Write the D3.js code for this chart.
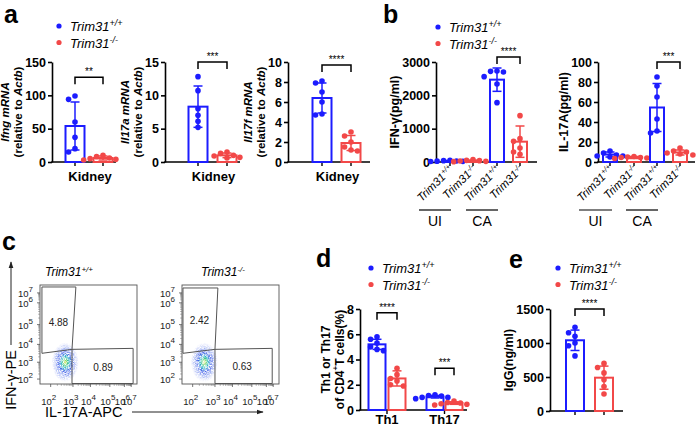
<!DOCTYPE html>
<html>
<head>
<meta charset="utf-8">
<script src="https://cdn.jsdelivr.net/npm/d3@7"></script>
<style>
  body { margin: 0; background: #fff; }
  svg { font-family: "Liberation Sans", Arial, sans-serif; }
</style>
</head>
<body>
<svg id="fig" width="697" height="427"></svg>
<script>
const BLUE = "#1c1cff";
const RED = "#f24848";

// genotypes (legend / x labels): Trim31+/+ and Trim31-/-
const genoSup = ["+/+", "-/-"];
const genoColor = [BLUE, RED];

// ---- panel a : kidney mRNA (relative to Actb) ----
const ifngMean = [54, 6];
const ifngSD = [36, 3];
const ifngPts = [[99, 94, 60, 37, 20, 15], [10, 8, 6, 5, 4, 3]];
const il17aMean = [8.3, 1.0];
const il17aSD = [3.1, 0.35];
const il17aPts = [[12.8, 10.7, 8.0, 7.0, 6.1, 5.2], [1.5, 1.3, 1.0, 0.9, 0.7, 0.6]];
const il17fMean = [6.4, 1.9];
const il17fSD = [1.5, 0.75];
const il17fPts = [[8.1, 7.9, 7.0, 6.0, 4.8, 4.7], [3.0, 2.6, 2.0, 1.5, 1.2, 1.1]];

// ---- panel b : cytokines, UI vs CA ----
const bGroups = ["UI", "CA"];
const ifnMean = [30, 35, 2470, 610];
const ifnSD = [15, 20, 350, 470];
const ifnPts = [[50, 40, 30, 25, 20, 15], [70, 50, 40, 30, 20, 10],
                [2730, 2720, 2700, 2560, 2340, 1780], [1390, 700, 620, 420, 300, 230]];
const il17Mean = [7.5, 4.5, 54.5, 9.5];
const il17SD = [2.5, 1, 24, 2.5];
const il17Pts = [[11, 9, 7, 6, 6, 5], [5.5, 5, 4.5, 4.5, 4, 3.5],
                 [85, 76, 65, 43, 31, 29], [14, 11, 10, 9, 8, 7]];

// ---- panel c : flow cytometry (channel units 0-100) ----
const flowTickExp = [2, 3, 4, 5, 6, 7];
const flowXTickPos = [11, 34, 52, 72, 87, 94];
const flowYTickPos = [5, 22, 40, 60, 82, 92];
const wtGateTh1 = [[2, 98], [37, 98], [33, 35], [2, 31]];
const wtGateTh17 = [[33, 35], [96, 36], [96, 0.5], [33, 0.5]];
const wtPct = ["4.88", "0.89"];
const wtPctAt = [[19, 63], [65, 17]];
const koGateTh1 = [[1, 97], [37, 97], [34, 35], [1, 31]];
const koGateTh17 = [[34, 35], [93, 36], [93, 0.5], [34, 0.5]];
const koPct = ["2.42", "0.63"];
const koPctAt = [[18, 65], [62, 18]];
const wtCloud = { cx: 26, cy: 22, rx: 14, ry: 20 };
const koCloud = { cx: 23, cy: 22, rx: 14, ry: 20 };

// ---- panel d : Th1 / Th17 ----
const thCats = ["Th1", "Th17"];
const thMeanWT = [5.2, 1.05];
const thMeanKO = [2.5, 0.55];
const thSDWT = [0.4, 0.1];
const thSDKO = [0.6, 0.1];
const thPtsWT = [[5.8, 5.6, 5.3, 5.0, 4.8, 4.7], [1.2, 1.15, 1.1, 1.0, 1.0, 0.9]];
const thPtsKO = [[3.3, 2.8, 2.5, 2.3, 2.0, 1.9], [0.7, 0.6, 0.55, 0.5, 0.45, 0.4]];

// ---- panel e : IgG ----
const iggMean = [1040, 490];
const iggSD = [150, 170];
const iggPts = [[1230, 1150, 1100, 1000, 960, 810], [700, 640, 560, 460, 360, 250]];

const svg = d3.select("#fig");
const defs = svg.append("defs");

// helper: "Trim31" with superscript
function trim31(sel, sup, supSize, dy) {
  sel.append("tspan").text("Trim31");
  sel.append("tspan").attr("dy", dy).attr("font-size", supSize).text(sup);
}

function panelLetter(x, y, t) {
  svg.append("text").attr("x", x).attr("y", y)
    .attr("font-size", 25).attr("font-weight", "bold").text(t);
}

function legend(x, y) {
  genoSup.forEach((s, i) => {
    const yy = y + i * 16.5;
    svg.append("circle").attr("cx", x).attr("cy", yy).attr("r", 2.6).attr("fill", genoColor[i]);
    const t = svg.append("text").attr("x", x + 11).attr("y", yy + 5)
      .attr("font-size", 13).attr("font-style", "italic");
    trim31(t, s, 9, -5);
  });
}

// beeswarm-ish horizontal offsets so dots don't overlap
function swarm(vals, y, r) {
  const placed = [];
  return vals.map(v => {
    const py = y(v);
    let dx = 0;
    for (const o of [0, -1, 1, -2, 2, -3, 3]) {
      dx = o * r * 2.3;
      if (!placed.some(p => Math.hypot(p[0] - dx, p[1] - py) < r * 2.1)) break;
    }
    placed.push([dx, py]);
    return [dx, py];
  });
}

// generic bar + dot + SD chart
function barChart(cfg) {
  const g = svg.append("g");
  const y = d3.scaleLinear().domain(cfg.domain).range([cfg.yBot, cfg.yTop]);
  const keys = cfg.means.map((d, i) => i);
  const x = d3.scaleOrdinal().domain(keys).range(cfg.centers);

  // y axis
  const ax = g.append("g").attr("transform", `translate(${cfg.axisX},0)`)
    .call(d3.axisLeft(y).tickValues(cfg.ticks).tickFormat(d3.format("d"))
      .tickSize(4).tickSizeOuter(0).tickPadding(2));
  ax.selectAll("path,line").attr("stroke", "#000").attr("stroke-width", 1.6);
  ax.selectAll("text").attr("font-size", cfg.tickFont || 12.5).attr("font-weight", "bold")
    .attr("font-family", "Liberation Sans, Arial, sans-serif").attr("fill", "#000");
  let minX = Infinity;
  ax.selectAll("text").each(function () { minX = Math.min(minX, this.getBBox().x); });
  const labLeft = cfg.axisX + minX;

  // x axis line + ticks
  g.append("line").attr("x1", cfg.axisX - 0.8).attr("x2", cfg.axisEnd)
    .attr("y1", cfg.yBot).attr("y2", cfg.yBot).attr("stroke", "#000").attr("stroke-width", 1.6);
  (cfg.xticks || keys.map(k => x(k))).forEach(t => {
    g.append("line").attr("x1", t).attr("x2", t).attr("y1", cfg.yBot).attr("y2", cfg.yBot + 4)
      .attr("stroke", "#000").attr("stroke-width", 1.4);
  });

  keys.forEach(i => {
    const cx = x(i), col = cfg.colors[i], m = cfg.means[i], sd = cfg.sds[i];
    g.append("rect").attr("x", cx - cfg.bw / 2).attr("width", cfg.bw)
      .attr("y", y(m)).attr("height", cfg.yBot - y(m))
      .attr("fill", "none").attr("stroke", col).attr("stroke-width", 2);
    const lo = Math.max(cfg.domain[0], m - sd), hi = m + sd;
    g.append("line").attr("x1", cx).attr("x2", cx).attr("y1", y(lo)).attr("y2", y(hi))
      .attr("stroke", col).attr("stroke-width", 1.5);
    [lo, hi].forEach(v => {
      g.append("line").attr("x1", cx - 4.5).attr("x2", cx + 4.5).attr("y1", y(v)).attr("y2", y(v))
        .attr("stroke", col).attr("stroke-width", 1.5);
    });
    g.selectAll(null).data(swarm(cfg.pts[i], y, 2.8)).enter().append("circle")
      .attr("cx", d => cx + d[0]).attr("cy", d => d[1]).attr("r", 2.8).attr("fill", col);
  });

  // significance brackets
  (cfg.sig || []).forEach(s => {
    const xa = x(s.a), xb = x(s.b), yy = y(s.at);
    g.append("path").attr("d", `M${xa},${yy + 7}V${yy}H${xb}V${yy + 7}`)
      .attr("fill", "none").attr("stroke", "#000").attr("stroke-width", 1.5);
    g.append("text").attr("x", (xa + xb) / 2).attr("y", yy - 2).attr("text-anchor", "middle")
      .attr("font-size", 10).text(s.label);
  });

  // y label (one or two lines, built by callback), placed left of the tick labels
  const ymid = (cfg.yTop + cfg.yBot) / 2;
  const n = cfg.ylabel.length;
  cfg.ylabel.forEach((fn, li) => {
    const cxl = labLeft - 7.5 - (cfg.lineGap || 13.5) * (n - 1 - li);
    const t = g.append("text")
      .attr("transform", `translate(${cxl},${ymid}) rotate(-90)`)
      .attr("text-anchor", "middle").attr("dominant-baseline", "central")
      .attr("font-size", cfg.labFont || 12.5).attr("font-weight", "bold");
    fn(t);
  });
  return { g, x, y };
}

// ================= panel a =================
panelLetter(4, 23, "a");
legend(59, 26);

function aLabel(gene) {
  return [
    t => t.append("tspan").attr("font-style", "italic").text(gene + " mRNA"),
    t => { t.append("tspan").text("(relative to ");
           t.append("tspan").attr("font-style", "italic").text("Actb");
           t.append("tspan").text(")"); }
  ];
}

const aCfg = [
  { axisX: 52, axisEnd: 116, centers: [75, 103], domain: [0, 150], ticks: [0, 50, 100, 150],
    means: ifngMean, sds: ifngSD, pts: ifngPts, gene: "Ifng", sig: [{ a: 0, b: 1, at: 127, label: "**" }] },
  { axisX: 165, axisEnd: 240, centers: [198, 227], domain: [0, 15], ticks: [0, 5, 10, 15],
    means: il17aMean, sds: il17aSD, pts: il17aPts, gene: "Il17a", sig: [{ a: 0, b: 1, at: 15, label: "***" }] },
  { axisX: 288, axisEnd: 370, centers: [322, 351], domain: [0, 10], ticks: [0, 2, 4, 6, 8, 10],
    means: il17fMean, sds: il17fSD, pts: il17fPts, gene: "Il17f", sig: [{ a: 0, b: 1, at: 9.7, label: "****" }] }
];
aCfg.forEach(c => {
  const r = barChart(Object.assign({ yTop: 62, yBot: 162, bw: 19, colors: genoColor,
    ylabel: aLabel(c.gene), labFont: 11.5, lineGap: 13 }, c));
  r.g.append("text").attr("x", (c.centers[0] + c.centers[1]) / 2 + 1).attr("y", 181)
    .attr("text-anchor", "middle").attr("font-size", 13).attr("font-weight", "bold").text("Kidney");
});

// ================= panel b =================
panelLetter(383, 23, "b");
legend(438, 27);

const bColors = [BLUE, RED, BLUE, RED];
const bSup = [genoSup[0], genoSup[1], genoSup[0], genoSup[1]];
const bCfg = [
  { axisX: 436, axisEnd: 537, centers: [450, 473, 497, 520], domain: [0, 3000], ticks: [0, 1000, 2000, 3000],
    means: ifnMean, sds: ifnSD, pts: ifnPts, sig: [{ a: 2, b: 3, at: 3150, label: "****" }],
    ylabel: [t => t.text("IFN-\u03b3(pg/ml)")] },
  { axisX: 598, axisEnd: 695, centers: [610, 634, 657, 680], domain: [0, 100], ticks: [0, 20, 40, 60, 80, 100],
    means: il17Mean, sds: il17SD, pts: il17Pts, sig: [{ a: 2, b: 3, at: 100, label: "***" }],
    ylabel: [t => t.text("IL-17A(pg/ml)")] }
];
bCfg.forEach(c => {
  const r = barChart(Object.assign({ yTop: 62, yBot: 162, bw: 14, colors: bColors }, c));
  c.centers.forEach((cx, i) => {
    const t = r.g.append("text").attr("transform", `translate(${cx + 4},${170}) rotate(-45)`)
      .attr("text-anchor", "end").attr("font-size", 11.5).attr("font-style", "italic");
    trim31(t, bSup[i], 7.5, -4);
  });
  bGroups.forEach((gname, k) => {
    const xa = c.centers[2 * k] - 31, xb = c.centers[2 * k + 1] - 22;
    r.g.append("line").attr("x1", xa).attr("x2", xb).attr("y1", 210).attr("y2", 210)
      .attr("stroke", "#000").attr("stroke-width", 1.2);
    r.g.append("text").attr("x", (xa + xb) / 2).attr("y", 226).attr("text-anchor", "middle")
      .attr("font-size", 14).text(gname);
  });
});

// ================= panel c =================
panelLetter(2, 250, "c");

const grad = defs.append("radialGradient").attr("id", "cloudGrad");
[[0, "#f0e020", 1], [0.1, "#60d040", 1], [0.28, "#20b8c0", 0.95], [0.48, "#2446e6", 0.85],
 [0.75, "#4a6ae8", 0.45], [1, "#7a8af0", 0]].forEach(s => {
  grad.append("stop").attr("offset", s[0]).attr("stop-color", s[1]).attr("stop-opacity", s[2]);
});
// grainy look for the dot cloud
const flt = defs.append("filter").attr("id", "grain").attr("x", "-20%").attr("y", "-20%")
  .attr("width", "140%").attr("height", "140%");
flt.append("feTurbulence").attr("type", "fractalNoise").attr("baseFrequency", 1.6)
  .attr("numOctaves", 1).attr("seed", 3).attr("result", "noise");
flt.append("feColorMatrix").attr("in", "noise").attr("type", "matrix")
  .attr("values", "0 0 0 0 0  0 0 0 0 0  0 0 0 0 0  0 0 0 -2.2 1.6").attr("result", "mask");
flt.append("feComposite").attr("in", "SourceGraphic").attr("in2", "mask").attr("operator", "in");

function flowPlot(x0, sup, gates, pct, pctAt, cloud, titleX) {
  const w = 97, h = 99, y0 = 285;
  const g = svg.append("g");
  const fx = d3.scaleLinear().domain([0, 100]).range([x0, x0 + w]);
  const fy = d3.scaleLinear().domain([0, 100]).range([y0 + h, y0]);

  g.append("ellipse").attr("cx", fx(cloud.cx)).attr("cy", fy(cloud.cy))
    .attr("rx", fx(cloud.rx) - fx(0)).attr("ry", fy(0) - fy(cloud.ry))
    .attr("fill", "url(#cloudGrad)").attr("filter", "url(#grain)");

  g.append("rect").attr("x", x0).attr("y", y0).attr("width", w).attr("height", h)
    .attr("fill", "none").attr("stroke", "#555").attr("stroke-width", 0.9);

  const line = d3.line().x(d => fx(d[0])).y(d => fy(d[1]));
  gates.forEach(gt => g.append("path").attr("d", line(gt) + "Z")
    .attr("fill", "none").attr("stroke", "#555").attr("stroke-width", 1));
  pct.forEach((p, i) => g.append("text").attr("x", fx(pctAt[i][0])).attr("y", fy(pctAt[i][1]) + 4)
    .attr("text-anchor", "middle").attr("font-size", 10).attr("fill", "#222").text(p));

  // major + minor ticks
  flowXTickPos.forEach((p, i) => {
    g.append("line").attr("x1", fx(p)).attr("x2", fx(p)).attr("y1", y0 + h).attr("y2", y0 + h + 3)
      .attr("stroke", "#555").attr("stroke-width", 0.8);
    const t = g.append("text").attr("x", fx(p) - 2).attr("y", y0 + h + 21)
      .attr("text-anchor", "middle").attr("font-size", 9.5).attr("fill", "#222");
    t.append("tspan").text("10");
    t.append("tspan").attr("dy", -5).attr("font-size", 8).text(flowTickExp[i]);
    if (i < flowXTickPos.length - 1) {
      d3.range(2, 10).forEach(k => {
        const q = p + (flowXTickPos[i + 1] - p) * Math.log10(k);
        g.append("line").attr("x1", fx(q)).attr("x2", fx(q)).attr("y1", y0 + h).attr("y2", y0 + h + 1.8)
          .attr("stroke", "#777").attr("stroke-width", 0.6);
      });
    }
  });
  flowYTickPos.forEach((p, i) => {
    g.append("line").attr("x1", x0).attr("x2", x0 - 3).attr("y1", fy(p)).attr("y2", fy(p))
      .attr("stroke", "#555").attr("stroke-width", 0.8);
    const t = g.append("text").attr("x", x0 - 7).attr("y", fy(p) + 4)
      .attr("text-anchor", "end").attr("font-size", 9.5).attr("fill", "#222");
    t.append("tspan").text("10");
    t.append("tspan").attr("dy", -5).attr("font-size", 8).text(flowTickExp[i]);
    if (i < flowYTickPos.length - 1) {
      d3.range(2, 10).forEach(k => {
        const q = p + (flowYTickPos[i + 1] - p) * Math.log10(k);
        g.append("line").attr("x1", x0).attr("x2", x0 - 1.8).attr("y1", fy(q)).attr("y2", fy(q))
          .attr("stroke", "#777").attr("stroke-width", 0.6);
      });
    }
  });

  const tt = g.append("text").attr("x", titleX).attr("y", 276).attr("text-anchor", "middle")
    .attr("font-size", 12).attr("font-style", "italic");
  trim31(tt, sup, 8, -4);
}

flowPlot(40, genoSup[0], [wtGateTh1, wtGateTh17], wtPct, wtPctAt, wtCloud, 69);
flowPlot(182, genoSup[1], [koGateTh1, koGateTh17], koPct, koPctAt, koCloud, 223);

const arrowM = defs.append("marker").attr("id", "arr").attr("viewBox", "0 0 10 10")
  .attr("refX", 9).attr("refY", 5).attr("markerWidth", 7).attr("markerHeight", 7)
  .attr("orient", "auto");
arrowM.append("path").attr("d", "M0,1.5L10,5L0,8.5Z").attr("fill", "#222");

svg.append("text").attr("transform", "translate(16,380) rotate(-90)").attr("text-anchor", "middle")
  .attr("font-size", 14.5).text("IFN-\u03b3-PE");
svg.append("line").attr("x1", 11).attr("x2", 11).attr("y1", 345).attr("y2", 262)
  .attr("stroke", "#222").attr("stroke-width", 1).attr("marker-end", "url(#arr)");
svg.append("text").attr("x", 45).attr("y", 417).attr("font-size", 14.5).text("IL-17A-APC");
svg.append("line").attr("x1", 132).attr("x2", 263).attr("y1", 412).attr("y2", 412)
  .attr("stroke", "#222").attr("stroke-width", 1).attr("marker-end", "url(#arr)");

// ================= panel d =================
panelLetter(316, 267, "d");
legend(371, 268);
const dRes = barChart({
  axisX: 360, axisEnd: 467, centers: [377, 397, 435, 454], yTop: 309, yBot: 410, bw: 17,
  domain: [0, 8], ticks: [0, 2, 4, 6, 8],
  means: [thMeanWT[0], thMeanKO[0], thMeanWT[1], thMeanKO[1]],
  sds: [thSDWT[0], thSDKO[0], thSDWT[1], thSDKO[1]],
  pts: [thPtsWT[0], thPtsKO[0], thPtsWT[1], thPtsKO[1]],
  colors: [BLUE, RED, BLUE, RED], xticks: [387, 444.5],
  sig: [{ a: 0, b: 1, at: 7.7, label: "****" }, { a: 2, b: 3, at: 3.3, label: "***" }],
  ylabel: [t => t.text("Th1 or Th17"),
           t => { t.append("tspan").text("of CD4");
                  t.append("tspan").attr("dy", -5).attr("font-size", 8).text("+");
                  t.append("tspan").attr("dy", 5).text("T cells(%)"); }],
  labFont: 12, lineGap: 14
});
thCats.forEach((c, i) => {
  dRes.g.append("text").attr("x", [387, 444.5][i]).attr("y", 424).attr("text-anchor", "middle")
    .attr("font-size", 13).attr("font-weight", "bold").text(c);
});

// ================= panel e =================
panelLetter(509, 268, "e");
legend(558, 268);
barChart({
  axisX: 550, axisEnd: 623, centers: [575, 604], yTop: 309, yBot: 411, bw: 18,
  domain: [0, 1500], ticks: [0, 500, 1000, 1500],
  means: iggMean, sds: iggSD, pts: iggPts, colors: genoColor,
  sig: [{ a: 0, b: 1, at: 1500, label: "****" }],
  ylabel: [t => t.text("IgG(ng/ml)")]
});
</script>
</body>
</html>
